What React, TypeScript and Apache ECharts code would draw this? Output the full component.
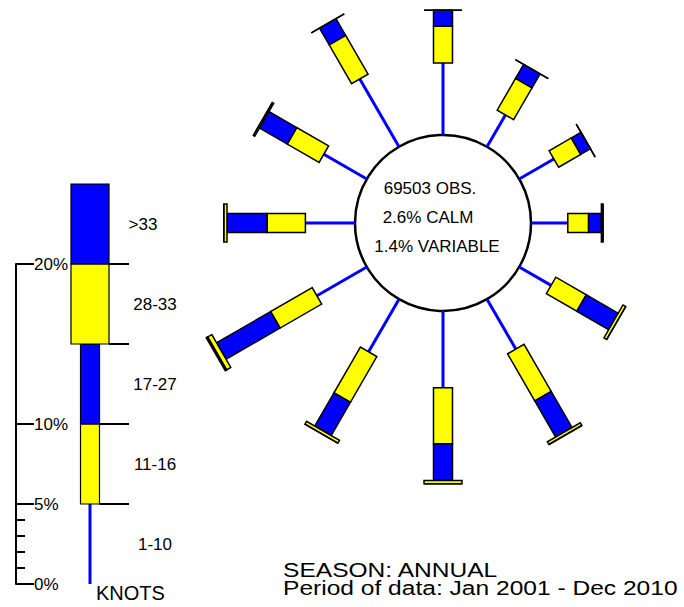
import React, { useEffect, useRef } from "react";
import * as echarts from "echarts";

// Wind directions (degrees clockwise from north) and the share of observations
// (percent) per speed band for each direction.
const directions = [0, 30, 60, 90, 120, 150, 180, 210, 240, 270, 300, 330];
const speedBands = ["1-10", "11-16", "17-27", "28-33", ">33"];
const knots1to10 = [4.5, 2.3, 2.5, 2.3, 2.3, 3.6, 4.8, 3.8, 3.6, 3.1, 3.1, 4.9];
const knots11to16 = [2.3, 2.3, 1.6, 1.3, 2.2, 3.4, 3.5, 3.3, 3.0, 2.4, 2.3, 2.8];
const knots17to27 = [1.0, 1.0, 0.7, 0.8, 2.3, 2.6, 2.3, 2.4, 3.9, 2.5, 2.0, 1.2];
const knots28to33 = [0, 0, 0, 0.1, 0.2, 0.2, 0.2, 0.2, 0.3, 0.2, 0.1, 0];
const knotsOver33 = [0, 0, 0, 0, 0, 0, 0, 0, 0.1, 0, 0, 0];

// Key scale
const legendBounds = [0, 5, 10, 15, 20, 25];
const majorTicks = [0, 5, 10, 20];
const minorTicks = [1, 2, 3, 4];

const observations = 69503;
const calmPct = 2.6;
const variablePct = 1.4;
const seasonLabel = "SEASON: ANNUAL";
const periodLabel = "Period of data: Jan 2001 - Dec 2010";
const unitLabel = "KNOTS";

const YELLOW = "#ffff00";
const BLUE = "#0000ff";
const FONT = "'Liberation Sans', Arial, Helvetica, sans-serif";

// Drawing style per speed band: band 0 is a thin line, the rest are boxes.
const bandStyle = [
  { half: 0, fill: BLUE, labelDx: 0 },
  { half: 9.5, fill: YELLOW, labelDx: 0 },
  { half: 9.5, fill: BLUE, labelDx: 0 },
  { half: 19, fill: YELLOW, labelDx: 0 },
  { half: 19, fill: BLUE, labelDx: -12 },
];

const ROSE_CX = 443;
const ROSE_CY = 223;
const CALM_R = 88;
const PX_PER_PCT = 16;
const ROSE_MAX = 12;

export default function App() {
  const ref = useRef<HTMLDivElement>(null);

  useEffect(() => {
    if (!ref.current) return;
    const chart = echarts.init(ref.current, null, { renderer: "svg" });

    const roseData = directions.map((d, i) => [
      0,
      d,
      knots1to10[i],
      knots11to16[i],
      knots17to27[i],
      knots28to33[i],
      knotsOver33[i],
    ]);

    const legendData = speedBands.map((_, i) => [0, legendBounds[i], legendBounds[i + 1], i]);

    const option: any = {
      animation: false,
      backgroundColor: "#ffffff",
      polar: {
        center: [ROSE_CX, ROSE_CY],
        radius: [CALM_R, CALM_R + PX_PER_PCT * ROSE_MAX],
      },
      angleAxis: {
        type: "value",
        min: 0,
        max: 360,
        startAngle: 90,
        clockwise: true,
        show: false,
      },
      radiusAxis: {
        type: "value",
        min: 0,
        max: ROSE_MAX,
        show: false,
      },
      grid: { left: 16, top: 264, width: 114, height: 320 },
      xAxis: { type: "value", min: -74, max: 40, show: false },
      yAxis: [
        {
          type: "value",
          min: 0,
          max: 20,
          position: "left",
          axisLine: { show: true, onZero: false, lineStyle: { color: "#000", width: 2 } },
          axisTick: {
            show: true,
            inside: true,
            length: 18,
            customValues: majorTicks,
            lineStyle: { color: "#000", width: 2 },
          },
          axisLabel: {
            show: true,
            inside: true,
            margin: 18,
            customValues: majorTicks,
            formatter: "{value}%",
            color: "#000",
            fontSize: 17,
            fontFamily: FONT,
            padding: [3, 0, 0, 0],
          },
          splitLine: { show: false },
        },
        {
          type: "value",
          min: 0,
          max: 20,
          position: "left",
          axisLine: { show: false, onZero: false },
          axisTick: {
            show: true,
            inside: true,
            length: 9,
            customValues: minorTicks,
            lineStyle: { color: "#000", width: 2 },
          },
          axisLabel: { show: false },
          splitLine: { show: false },
        },
      ],
      series: [
        {
          type: "custom",
          coordinateSystem: "polar",
          data: roseData,
          encode: { radius: 0, angle: 1 },
          clip: false,
          renderItem: (params: any, api: any) => {
            const ang = api.value(1);
            const vals = [api.value(2), api.value(3), api.value(4), api.value(5), api.value(6)];
            const o = api.coord([0, ang]);
            const f = api.coord([ROSE_MAX, ang]);
            const len = Math.hypot(f[0] - o[0], f[1] - o[1]) || 1;
            const ux = (f[0] - o[0]) / len;
            const uy = (f[1] - o[1]) / len;
            const nx = -uy;
            const ny = ux;
            const children: any[] = [];
            let cum = 0;
            vals.forEach((v, i) => {
              const a = api.coord([cum, ang]);
              const b = api.coord([cum + v, ang]);
              cum += v;
              const st = bandStyle[i];
              if (i === 0) {
                children.push({
                  type: "line",
                  shape: { x1: a[0], y1: a[1], x2: b[0], y2: b[1] },
                  style: { stroke: BLUE, lineWidth: 3 },
                });
              } else {
                const h = st.half;
                children.push({
                  type: "polygon",
                  shape: {
                    points: [
                      [a[0] + nx * h, a[1] + ny * h],
                      [b[0] + nx * h, b[1] + ny * h],
                      [b[0] - nx * h, b[1] - ny * h],
                      [a[0] - nx * h, a[1] - ny * h],
                    ],
                  },
                  style: { fill: st.fill, stroke: "#000", lineWidth: 1.5 },
                });
              }
            });
            return { type: "group", children };
          },
        },
        {
          type: "custom",
          coordinateSystem: "cartesian2d",
          xAxisIndex: 0,
          yAxisIndex: 0,
          data: legendData,
          encode: { x: 0, y: [1, 2] },
          clip: false,
          renderItem: (params: any, api: any) => {
            const lo = api.value(1);
            const hi = api.value(2);
            const idx = api.value(3);
            const base = api.coord([0, 0]);
            const unit = api.size([1, 1]);
            const cx = base[0];
            const y0 = base[1] - lo * unit[1];
            const y1 = base[1] - hi * unit[1];
            const st = bandStyle[idx];
            const children: any[] = [];
            if (idx === 0) {
              children.push({
                type: "line",
                shape: { x1: cx, y1: y0, x2: cx, y2: y1 },
                style: { stroke: BLUE, lineWidth: 3 },
              });
            } else {
              children.push({
                type: "rect",
                shape: { x: cx - st.half, y: y1, width: st.half * 2, height: y0 - y1 },
                style: { fill: st.fill, stroke: "#000", lineWidth: 1.2 },
              });
              // separator tick at the lower bound of this band
              const prevHalf = bandStyle[idx - 1].half;
              const sx = cx + Math.max(prevHalf, st.half);
              children.push({
                type: "line",
                shape: { x1: sx, y1: y0, x2: cx + 39 * unit[0], y2: y0 },
                style: { stroke: "#000", lineWidth: 2 },
              });
            }
            children.push({
              type: "text",
              x: cx + (65 + st.labelDx) * unit[0],
              y: (y0 + y1) / 2,
              style: {
                text: speedBands[idx],
                fill: "#000",
                font: `17px ${FONT}`,
                align: "center",
                verticalAlign: "middle",
              },
            });
            return { type: "group", children };
          },
        },
      ],
      graphic: [
        {
          type: "circle",
          shape: { cx: ROSE_CX, cy: ROSE_CY, r: CALM_R },
          style: { fill: "#fff", stroke: "#000", lineWidth: 2.5 },
          z: 1,
        },
        {
          type: "text",
          x: 430,
          y: 188,
          style: {
            text: `${observations} OBS.`,
            fill: "#000",
            font: `17px ${FONT}`,
            align: "center",
            verticalAlign: "middle",
          },
          z: 2,
        },
        {
          type: "text",
          x: 428,
          y: 217,
          style: {
            text: `${calmPct}% CALM`,
            fill: "#000",
            font: `17px ${FONT}`,
            align: "center",
            verticalAlign: "middle",
          },
          z: 2,
        },
        {
          type: "text",
          x: 437,
          y: 246,
          style: {
            text: `${variablePct}% VARIABLE`,
            fill: "#000",
            font: `17px ${FONT}`,
            align: "center",
            verticalAlign: "middle",
          },
          z: 2,
        },
        {
          type: "text",
          x: 96,
          y: 593,
          style: {
            text: unitLabel,
            fill: "#000",
            font: `20px ${FONT}`,
            align: "left",
            verticalAlign: "middle",
          },
        },
        {
          // two-line caption, set tight and slightly widened
          type: "text",
          x: 283,
          y: 561,
          scaleX: 1.17,
          style: {
            text: `${seasonLabel}\n${periodLabel}`,
            fill: "#000",
            font: `21px ${FONT}`,
            lineHeight: 18,
            align: "left",
            verticalAlign: "top",
          },
        },
      ],
    };

    chart.setOption(option);
    return () => chart.dispose();
  }, []);

  return (
    <div
      ref={ref}
      style={{ position: "fixed", left: 0, top: 0, width: 684, height: 607, background: "#fff" }}
    />
  );
}
